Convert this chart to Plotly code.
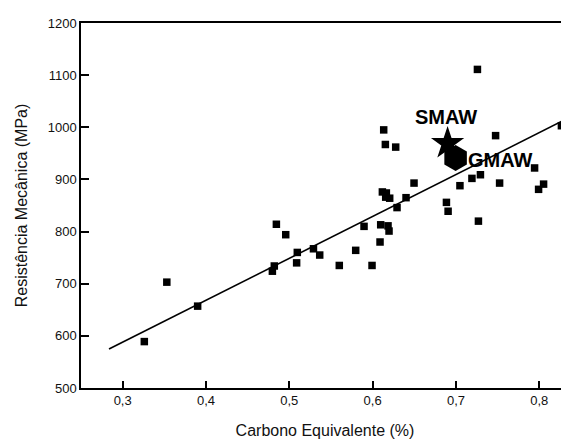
import plotly.graph_objects as go

# Experimental data (literature points)
carbono_eq = [0.326, 0.353, 0.390, 0.4845, 0.4957, 0.4797, 0.482, 0.5096, 0.5088, 0.529,
              0.5365, 0.560, 0.5797, 0.5993, 0.5897, 0.6089, 0.6097, 0.6185, 0.6197, 0.6117,
              0.6165, 0.6157, 0.6205, 0.6293, 0.6401, 0.6497, 0.6886, 0.6906, 0.7270, 0.7048,
              0.6133, 0.6153, 0.6277, 0.7476, 0.8266, 0.7944, 0.8052, 0.7992, 0.7524, 0.7294,
              0.7192, 0.7258]
resistencia = [589, 703, 657, 814, 794, 724, 734, 760, 740, 767,
               755, 735, 764, 735, 810, 780, 813, 811, 801, 876,
               874, 866, 864, 846, 865, 893, 856, 839, 820, 888,
               995, 967, 962, 984, 1003, 922, 891, 881, 893, 909,
               902, 1111]

# Regression line endpoints
fit_x = [0.2836, 0.8357]
fit_y = [574.7, 1018.5]

# Welding processes
smaw_x = [0.690]
smaw_y = [969]
gmaw_x = [0.6996]
gmaw_y = [941]

x_ticks = [0.3, 0.4, 0.5, 0.6, 0.7, 0.8]
y_ticks = [500, 600, 700, 800, 900, 1000, 1100, 1200]

font_family = "Arial, Liberation Sans, sans-serif"

fig = go.Figure()
fig.add_trace(go.Scatter(x=carbono_eq, y=resistencia, mode="markers",
                         marker=dict(symbol="square", size=7.5, color="black"),
                         showlegend=False))
fig.add_trace(go.Scatter(x=fit_x, y=fit_y, mode="lines",
                         line=dict(color="black", width=1.6), showlegend=False))
fig.add_trace(go.Scatter(x=gmaw_x, y=gmaw_y, mode="markers",
                         marker=dict(symbol="hexagon", size=26, color="black"),
                         showlegend=False))
fig.add_trace(go.Scatter(x=smaw_x, y=smaw_y, mode="markers",
                         marker=dict(symbol="star", size=25, color="black"),
                         showlegend=False))

fig.add_annotation(x=0.688, y=1019, text="<b>SMAW</b>", showarrow=False,
                   font=dict(size=20, color="black", family=font_family))
fig.add_annotation(x=0.7537, y=936.6, text="<b>GMAW</b>", showarrow=False,
                   font=dict(size=20, color="black", family=font_family))

fig.update_layout(
    width=569, height=439,
    margin=dict(l=73, r=8, t=13, b=59),
    paper_bgcolor="white", plot_bgcolor="white",
    font=dict(family=font_family, color="#111"),
    separators=", ",
    xaxis=dict(range=[0.25, 0.8357], tickvals=x_ticks, tickformat=".1f",
               ticks="inside", ticklen=7, tickwidth=1.5, tickcolor="black",
               showline=True, linecolor="black", linewidth=1.5, mirror=True,
               showgrid=False, zeroline=False,
               tickfont=dict(size=13, color="#111"),
               title=dict(text="Carbono Equivalente (%)", font=dict(size=16, color="#111"),
                          standoff=17)),
    yaxis=dict(range=[500, 1200], tickvals=y_ticks, tickformat="d",
               ticks="inside", ticklen=8, tickwidth=1.5, tickcolor="black",
               showline=True, linecolor="black", linewidth=1.5,
               showgrid=False, zeroline=False,
               tickfont=dict(size=13, color="#111"),
               title=dict(text="Resistência Mecânica (MPa)", font=dict(size=16, color="#111"),
                          standoff=16)),
)

fig.write_html("out.html")
